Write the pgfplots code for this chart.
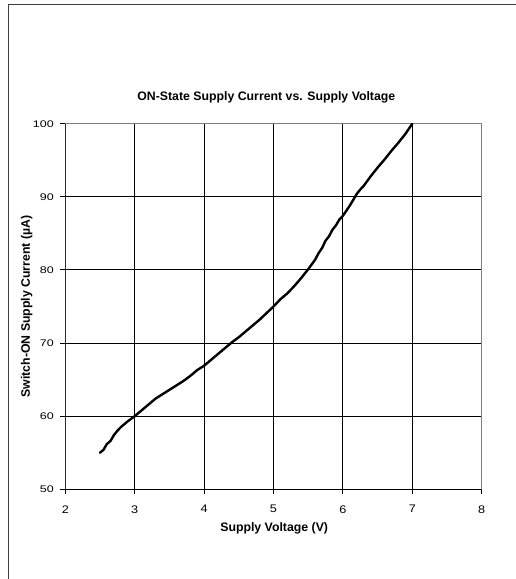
\documentclass[border=0pt]{standalone}
\usepackage{pgfplots}
\pgfplotsset{compat=1.18}
\usepackage{fontspec}
\setmainfont{Liberation Sans}
\begin{document}
\begin{tikzpicture}[x=1pt,y=1pt]
\useasboundingbox (0,0) rectangle (516,579);
\draw[color=black!75, line width=1pt] (8,-2) -- (8,574) -- (518,574);
\begin{axis}[
  at={(65.3pt,89.7pt)}, anchor=south west,
  width=416.4pt, height=365.6pt, scale only axis,
  xmin=2, xmax=8, ymin=50, ymax=100,
  xtick={2,3,4,5,6,7,8}, ytick={50,60,70,80,90,100},
  grid=major, major grid style={black, line width=0.9pt},
  axis line style={color=black!50, line width=1.4pt},
  tick align=outside, major tick length=5pt,
  xtick pos=lower, ytick pos=left,
  tick style={black, line width=0.9pt},
  /pgf/number format/assume math mode=true,
  xticklabel style={font=\fontsize{11}{13}\selectfont, xscale=1.15, yshift=-7.5pt},
  yticklabel style={font=\fontsize{9.6}{11}\selectfont, xscale=1.3, xshift=-1.5pt},
  title={ON-State Supply Current vs. Supply Voltage},
  title style={font=\bfseries\fontsize{12.3}{14}\selectfont, at={(axis description cs:0.4828,1.0484)}, anchor=base},
  xlabel={Supply Voltage (V)},
  xlabel style={font=\bfseries\fontsize{12.3}{14}\selectfont, at={(axis description cs:0.5017,-0.1141)}, anchor=base},
  ylabel={Switch-ON Supply Current (µA)},
  ylabel style={font=\bfseries\fontsize{12.3}{14}\selectfont, at={(axis description cs:-0.0848,0.5)}, anchor=base},
]
\addplot[black, line width=2.4pt, line join=round, line cap=round] coordinates {
(2.50,55.0) (2.55,55.4) (2.60,56.2) (2.65,56.6) (2.70,57.4) (2.75,58.0) (2.80,58.5) (2.85,58.9) (2.90,59.3) (3.00,60.0)
(3.10,60.8) (3.20,61.6) (3.30,62.4) (3.40,63.0) (3.50,63.6) (3.60,64.2) (3.70,64.8) (3.80,65.5) (3.90,66.3) (4.00,66.9)
(4.10,67.7) (4.20,68.5) (4.30,69.3) (4.40,70.1) (4.50,70.8) (4.60,71.6) (4.70,72.4) (4.80,73.2) (4.90,74.1) (5.00,75.0)
(5.10,76.0) (5.20,76.8) (5.30,77.8) (5.40,78.9) (5.50,80.1) (5.60,81.4) (5.65,82.3) (5.70,83.0) (5.75,84.0) (5.80,84.6)
(5.85,85.5) (5.90,86.1) (5.95,86.9) (6.00,87.4) (6.10,88.8) (6.20,90.4) (6.25,91.0) (6.30,91.5) (6.40,92.8) (6.50,94.0)
(6.60,95.1) (6.70,96.3) (6.80,97.4) (6.90,98.6) (7.00,100.0)
};
\draw[black, line width=1.2pt] (rel axis cs:0,1) -- (rel axis cs:0,0) -- (rel axis cs:1,0);
\end{axis}
\end{tikzpicture}
\end{document}
